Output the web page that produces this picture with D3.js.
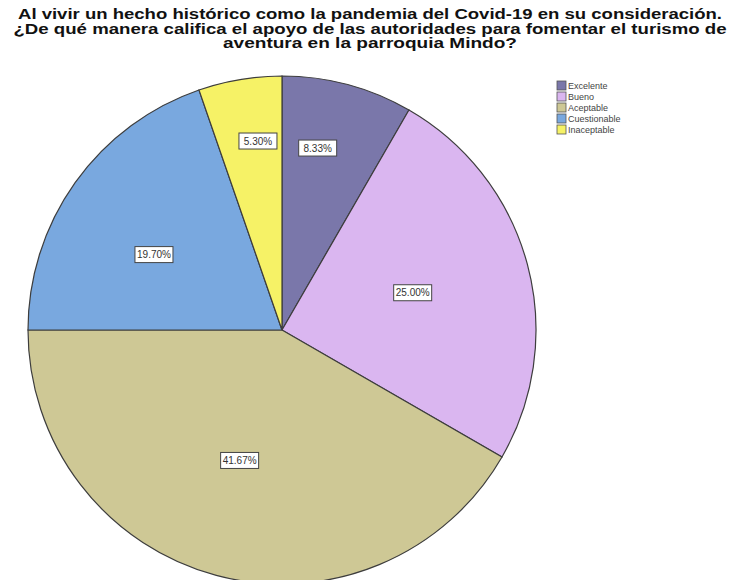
<!DOCTYPE html>
<html><head><meta charset="utf-8">
<script src="https://cdn.jsdelivr.net/npm/d3@7"></script>
<style>body{margin:0;background:#fff}svg{display:block}</style>
</head><body>
<svg id="chart" width="733" height="580"></svg>
<script>
// ---- data ----
const categories = ["Excelente", "Bueno", "Aceptable", "Cuestionable", "Inaceptable"];
const percents = [8.33, 25.00, 41.67, 19.70, 5.30];
const labels = ["8.33%", "25.00%", "41.67%", "19.70%", "5.30%"];
const titleLines = [
  "Al vivir un hecho histórico como la pandemia del Covid-19 en su consideración.",
  "¿De qué manera califica el apoyo de las autoridades para fomentar el turismo de",
  "aventura en la parroquia Mindo?"
];
// ---- layout / style ----
const colors = ["#7a77aa", "#dab6f0", "#cec895", "#79a8df", "#f6f266"];
const labelT = [0.37, 0.49, 0.52, 0.43, 0.62];   // position within slice angle
const labelR = [0.73, 0.535, 0.54, 0.585, 0.75]; // fraction of radius

const svg = d3.select("#chart");
const cx = 282, cy = 330, R = 254;

// title
const titleW = [704, 713, 294];
svg.append("g").selectAll("text").data(titleLines).join("text")
  .attr("x", 370).attr("y", (d, i) => 19 + i * 14.5)
  .attr("text-anchor", "middle")
  .attr("font-family", "Liberation Sans, Arial, sans-serif")
  .attr("font-weight", "bold").attr("font-size", 14).attr("fill", "#111")
  .attr("textLength", (d, i) => titleW[i]).attr("lengthAdjust", "spacingAndGlyphs")
  .text(d => d);

const pie = d3.pie().sort(null).value(d => d)(percents);
const arc = d3.arc().innerRadius(0).outerRadius(R);
const g = svg.append("g").attr("transform", `translate(${cx},${cy})`);
g.selectAll("path").data(pie).join("path")
  .attr("d", arc).attr("fill", (d, i) => colors[i])
  .attr("stroke", "#3d3d3d").attr("stroke-width", 1.2);

// labels
const lab = g.selectAll("g.lab").data(pie).join("g").attr("class", "lab")
  .attr("transform", (d, i) => {
    const a = d.startAngle + labelT[i] * (d.endAngle - d.startAngle);
    const r = labelR[i] * R;
    return `translate(${r * Math.sin(a)},${-r * Math.cos(a)})`;
  });
lab.append("rect").attr("x", -19).attr("y", -8).attr("width", 38).attr("height", 16)
  .attr("fill", "#fff").attr("stroke", "#444").attr("stroke-width", 1);
lab.append("text").attr("text-anchor", "middle").attr("dy", "0.35em")
  .attr("font-family", "Liberation Sans, Arial, sans-serif").attr("font-size", 10)
  .attr("fill", "#333").text((d, i) => labels[i]);

// legend
const leg = svg.append("g").attr("transform", "translate(557,81)")
  .selectAll("g").data(categories).join("g")
  .attr("transform", (d, i) => `translate(0,${i * 11})`);
leg.append("rect").attr("width", 9).attr("height", 9)
  .attr("fill", (d, i) => colors[i]).attr("stroke", "#555").attr("stroke-width", 0.8);
leg.append("text").attr("x", 11).attr("y", 5).attr("dy", "0.33em")
  .attr("font-family", "Liberation Sans, Arial, sans-serif").attr("font-size", 9)
  .attr("fill", "#444").text(d => d);
</script>
</body></html>
